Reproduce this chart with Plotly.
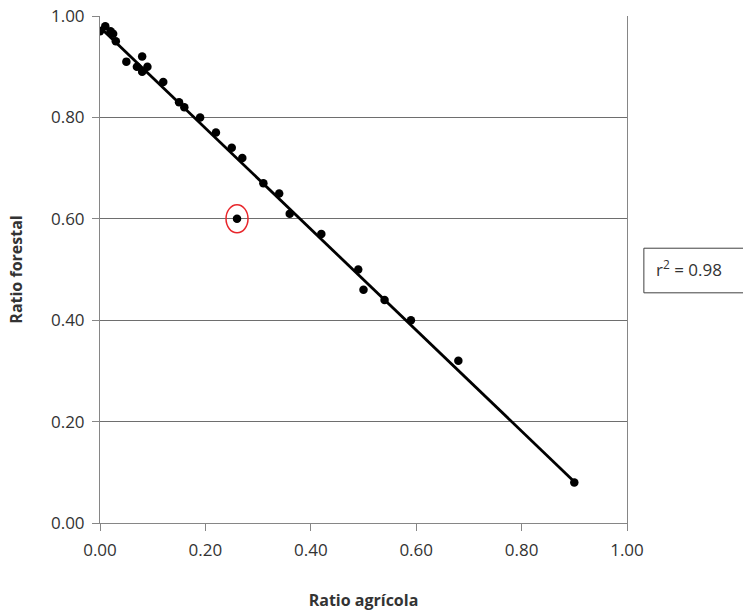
import numpy as np
import plotly.graph_objects as go

# Agricultural vs forest ratio per sample
ratio_agricola = [0.00, 0.01, 0.02, 0.025, 0.03, 0.05, 0.07, 0.08, 0.08, 0.09,
                  0.12, 0.15, 0.16, 0.19, 0.22, 0.25, 0.27, 0.26, 0.31, 0.34,
                  0.36, 0.42, 0.49, 0.50, 0.54, 0.59, 0.68, 0.90]
ratio_forestal = [0.97, 0.98, 0.97, 0.965, 0.95, 0.91, 0.90, 0.92, 0.89, 0.90,
                  0.87, 0.83, 0.82, 0.80, 0.77, 0.74, 0.72, 0.60, 0.67, 0.65,
                  0.61, 0.57, 0.50, 0.46, 0.44, 0.40, 0.32, 0.08]

# Highlighted outlier
outlier_x, outlier_y = 0.26, 0.60
r2_text = "r<sup>2</sup> = 0.98"

tick_vals = [0.0, 0.2, 0.4, 0.6, 0.8, 1.0]
tick_text = ["0.00", "0.20", "0.40", "0.60", "0.80", "1.00"]

# Linear trend line fitted to the samples
xa = np.array(ratio_agricola)
ya = np.array(ratio_forestal)
slope, intercept = np.polyfit(xa, ya, 1)
fit_x = [xa.min(), xa.max()]
fit_y = [intercept + slope * v for v in fit_x]

FONT = "Open Sans"
TEXT_COLOR = "#333333"
AXIS_COLOR = "#868686"

fig = go.Figure()
fig.add_trace(go.Scatter(
    x=fit_x, y=fit_y, mode="lines",
    line=dict(color="black", width=2.8),
    hoverinfo="skip", showlegend=False,
))
fig.add_trace(go.Scatter(
    x=ratio_agricola, y=ratio_forestal, mode="markers",
    marker=dict(color="black", size=8.5, symbol="circle"),
    showlegend=False,
))

# Red ring around the outlier
fig.add_shape(
    type="circle", xref="x", yref="y",
    xsizemode="pixel", ysizemode="pixel",
    xanchor=outlier_x, yanchor=outlier_y,
    x0=-11, x1=11, y0=-14, y1=14,
    line=dict(color="#e8262b", width=1.5),
)

# r² box
fig.add_shape(
    type="rect", xref="paper", yref="paper",
    x0=1.032, x1=1.35, y0=0.454, y1=0.542,
    line=dict(color="#404040", width=1), fillcolor="white",
)
fig.add_annotation(
    text=r2_text, xref="paper", yref="paper",
    x=1.052, y=0.502, xanchor="left", yanchor="middle",
    showarrow=False, font=dict(family=FONT, size=17, color=TEXT_COLOR),
)

fig.update_layout(
    width=743, height=611,
    margin=dict(l=100, r=116, t=16, b=88),
    paper_bgcolor="white", plot_bgcolor="white",
    font=dict(family=FONT, size=17, color=TEXT_COLOR),
)
fig.update_xaxes(
    range=[0, 1], tickvals=tick_vals, ticktext=tick_text,
    showgrid=False, zeroline=False, automargin=False,
    showline=True, linecolor=AXIS_COLOR, linewidth=1,
    ticks="outside", ticklen=7, tickcolor=AXIS_COLOR,
    ticklabelstandoff=5,
    tickfont=dict(family=FONT, size=17, color=TEXT_COLOR),
    title=dict(text="<b>Ratio agrícola</b>", standoff=34,
               font=dict(family=FONT, size=16, color=TEXT_COLOR)),
)
fig.update_yaxes(
    range=[0, 1], tickvals=tick_vals, ticktext=tick_text,
    showgrid=True, gridcolor="#6e6e6e", gridwidth=1,
    zeroline=False, automargin=False,
    showline=True, linecolor=AXIS_COLOR, linewidth=1, mirror=True,
    ticks="outside", ticklen=7, tickcolor=AXIS_COLOR,
    ticklabelstandoff=4,
    tickfont=dict(family=FONT, size=17, color=TEXT_COLOR),
    title=dict(text="<b>Ratio forestal</b>", standoff=24,
               font=dict(family=FONT, size=16, color=TEXT_COLOR)),
)

fig.write_html("out.html")
